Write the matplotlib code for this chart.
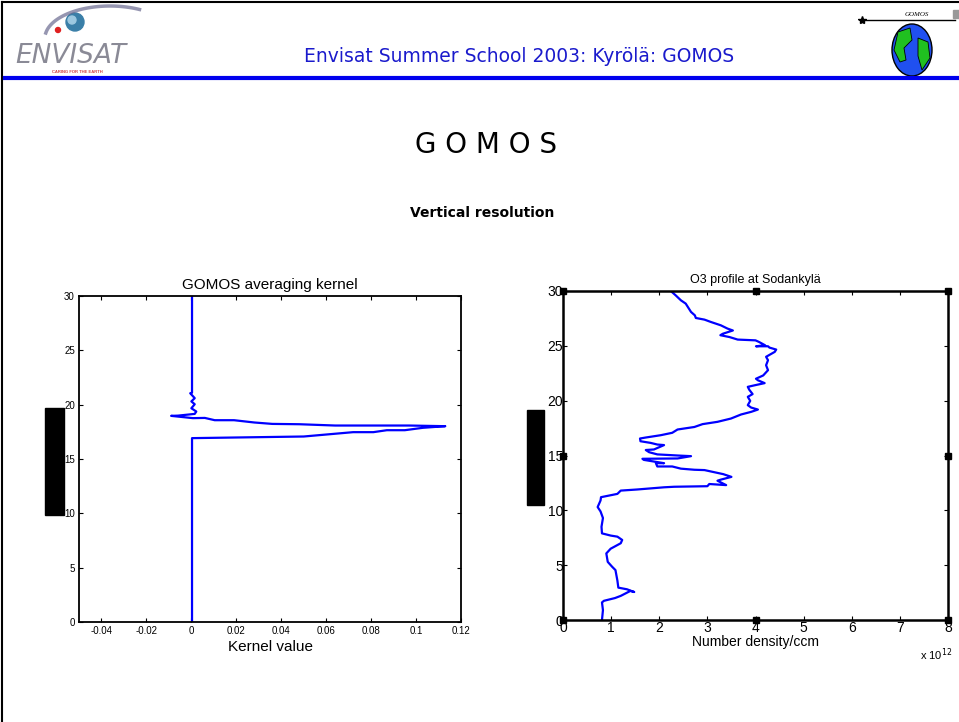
import numpy as np
import matplotlib
matplotlib.use('Agg')
import matplotlib.pyplot as plt
from matplotlib.patches import Rectangle, Ellipse, Circle, Polygon

plt.rcParams['font.family'] = ['Liberation Sans', 'DejaVu Sans']

# averaging kernel: value vs altitude (km)
kern_x = [0.0003, 0.0003, 0.050, 0.072, 0.081, 0.087, 0.095, 0.103, 0.113,
          0.097, 0.064, 0.048, 0.036, 0.028, 0.019, 0.0104, 0.006, 0.0007,
          -0.009, -0.006, 0.0015, 0.0022, 0.0000, 0.0015, 0.0000, 0.0015,
          -0.0005, 0.0003, 0.0003]
kern_z = [0.0, 16.92, 17.07, 17.47, 17.47, 17.65, 17.65, 17.87, 18.02,
          18.08, 18.08, 18.2, 18.23, 18.36, 18.57, 18.57, 18.78, 18.76,
          18.97, 18.99, 19.15, 19.37, 19.67, 20.04, 20.3, 20.6, 21.05,
          21.1, 30.0]

# O3 number density (x 1e12 /ccm) vs altitude (km), Sodankyla
o3_x = [0.81, 0.83, 0.81, 0.85, 1.08, 1.2, 1.4, 1.48, 1.33, 1.15, 1.13, 1.09, 1.02, 0.93,
        0.9, 0.99, 1.2, 1.23, 1.13, 0.99, 0.81, 0.8, 0.83, 0.78, 0.72, 0.78,
        0.79, 1.13, 1.2, 1.54, 2.1, 2.31, 3.0, 3.04, 3.39, 3.21, 3.28, 3.5,
        3.33, 2.94, 2.73, 2.45, 2.27, 1.96, 1.93, 2.1, 1.93, 1.68, 1.65, 2.38,
        2.66, 2.38, 1.96, 1.79, 1.72, 1.89, 2.1, 1.96, 1.82, 1.61, 1.6, 1.72,
        2.03, 2.27, 2.38, 2.73, 2.9, 3.21, 3.49, 3.7, 3.91, 4.05, 3.91, 3.84,
        3.89, 3.84, 3.94, 3.87, 3.84, 3.98, 4.19, 4.05, 4.01, 4.16, 4.26, 4.22,
        4.26, 4.22, 4.4, 4.43, 4.29, 4.26, 4.01, 4.2, 4.07, 4.0, 3.63, 3.46,
        3.27, 3.32, 3.53, 3.42, 3.28, 3.07, 2.94, 2.76, 2.74, 2.66, 2.55, 2.45,
        2.34, 2.24]
o3_z = [0.0, 0.9, 1.6, 1.75, 2.0, 2.2, 2.65, 2.55, 2.8, 2.95, 3.6, 4.55, 4.86, 5.3,
        6.07, 6.5, 7.0, 7.3, 7.6, 7.7, 7.9, 8.5, 9.3, 9.9, 10.3, 10.9,
        11.2, 11.5, 11.8, 11.9, 12.1, 12.15, 12.2, 12.4, 12.3, 12.7, 12.8, 13.05,
        13.3, 13.67, 13.7, 13.8, 14.0, 14.0, 14.3, 14.3, 14.42, 14.6, 14.7, 14.73,
        14.94, 15.0, 15.1, 15.3, 15.5, 15.55, 15.95, 16.0, 16.15, 16.3, 16.55, 16.64,
        16.85, 17.07, 17.37, 17.6, 17.86, 18.07, 18.37, 18.74, 18.98, 19.19, 19.37, 19.59,
        19.98, 20.35, 20.6, 21.0, 21.26, 21.4, 21.6, 21.86, 22.0, 22.3, 22.78, 23.23,
        23.69, 24.0, 24.45, 24.66, 24.84, 24.96, 24.96, 25.05, 25.36, 25.5, 25.57, 25.8,
        25.97, 26.1, 26.4, 26.57, 26.87, 27.18, 27.39, 27.54, 27.78, 28.09, 28.85, 29.15,
        29.61, 30.0]

W, H = 959, 722
fig = plt.figure(figsize=(W / 100, H / 100), dpi=100)

# slide background drawn in pixel coordinates
bg = fig.add_axes([0, 0, 1, 1], zorder=0)
bg.set_xlim(0, W)
bg.set_ylim(H, 0)
bg.axis('off')

bg.plot([2, 2], [2, H], color='black', lw=1.5)
bg.plot([2, W], [2, 2], color='black', lw=1.5)
bg.plot([5, W], [78, 78], color='#0000ee', lw=3)

# ENVISAT logo (rough)
t = np.linspace(np.pi * 0.95, np.pi * 0.35, 50)
bg.plot(110 + 65 * np.cos(t), 38 - 32 * np.sin(t), color='#6a6a90', lw=2.5, alpha=0.7)
bg.add_patch(Circle((75, 22), 9, color='#3a7fa8'))
bg.add_patch(Circle((72, 20), 4, color='#9cc8e0'))
bg.add_patch(Circle((58, 30), 2.5, color='#e02020'))
bg.text(15, 56, 'ENVISAT', fontsize=19, style='italic', color='#8a8a96',
        va='center', ha='left', family='DejaVu Sans')
bg.text(52, 72, 'CARING FOR THE EARTH', fontsize=3, color='#d04040',
        va='center', ha='left', weight='bold')

bg.text(519, 56, 'Envisat Summer School 2003: Kyrölä: GOMOS', fontsize=13.5,
        color='#1a1acc', ha='center', va='center', family='DejaVu Sans')

# GOMOS logo (rough)
bg.plot([862, 955], [20, 20], color='black', lw=1)
bg.plot([862], [20], marker='*', color='black', ms=6)
bg.add_patch(Rectangle((953, 10), 6, 8, color='#999999'))
bg.text(917, 14, 'GOMOS', fontsize=5, style='italic', family='Liberation Serif',
        ha='center', va='center')
bg.add_patch(Ellipse((912, 50), 40, 52, facecolor='#2050f0', edgecolor='black', lw=1))
bg.add_patch(Polygon([[898, 32], [910, 28], [912, 40], [904, 48], [906, 60], [900, 62], [894, 50]],
                     facecolor='#20c020', edgecolor='black', lw=0.6))
bg.add_patch(Polygon([[918, 38], [928, 42], [930, 58], [922, 70], [918, 56]],
                     facecolor='#20c020', edgecolor='black', lw=0.6))

bg.text(486, 145, 'G O M O S', fontsize=20, ha='center', va='center', family='DejaVu Sans')
bg.text(482, 213, 'Vertical resolution', fontsize=10, weight='bold', ha='center',
        va='center', family='DejaVu Sans')

# blacked-out y labels
bg.add_patch(Rectangle((45, 408), 19, 107, color='black'))
bg.add_patch(Rectangle((527, 410), 17, 95, color='black'))

# left: averaging kernel
ax1 = fig.add_axes([79 / W, 1 - 622 / H, (461 - 79) / W, (622 - 296) / H], zorder=2)
ax1.plot(kern_x, kern_z, color='#0000ff', lw=1.6)
ax1.set_xlim(-0.05, 0.12)
ax1.set_ylim(0, 30)
ax1.set_xticks([-0.04, -0.02, 0, 0.02, 0.04, 0.06, 0.08, 0.1, 0.12])
ax1.set_xticklabels(['-0.04', '-0.02', '0', '0.02', '0.04', '0.06', '0.08', '0.1', '0.12'])
ax1.set_yticks(range(0, 31, 5))
ax1.tick_params(direction='in', top=True, right=True, labelsize=7, length=3, pad=3)
for s in ax1.spines.values():
    s.set_linewidth(1.3)
ax1.set_title('GOMOS averaging kernel', fontsize=11, pad=5)
ax1.set_xlabel('Kernel value', fontsize=11, labelpad=3)

# right: O3 profile
ax2 = fig.add_axes([563 / W, 1 - 620 / H, (948 - 563) / W, (620 - 291) / H], zorder=2)
ax2.plot(o3_x, o3_z, color='#0000ff', lw=1.6)
ax2.set_xlim(0, 8)
ax2.set_ylim(0, 30)
ax2.set_xticks(range(0, 9))
ax2.set_yticks(range(0, 31, 5))
ax2.tick_params(direction='in', top=True, right=True, labelsize=10, length=3)
ax2.tick_params(axis='y', pad=0)
ax2.tick_params(axis='x', pad=1)
for s in ax2.spines.values():
    s.set_linewidth(1.8)
corner_x = [0, 4, 8, 0, 8, 0, 4, 8]
corner_z = [0, 0, 0, 15, 15, 30, 30, 30]
ax2.plot(corner_x, corner_z, ls='none', marker='s', ms=4.5, color='black', clip_on=False)
ax2.set_title('O3 profile at Sodankylä', fontsize=9, pad=6)
ax2.set_xlabel('Number density/ccm', fontsize=10, labelpad=0)
bg.text(920, 655, r'x 10$^{12}$', fontsize=8, ha='left', va='center')

fig.savefig('out.png', dpi=100)
